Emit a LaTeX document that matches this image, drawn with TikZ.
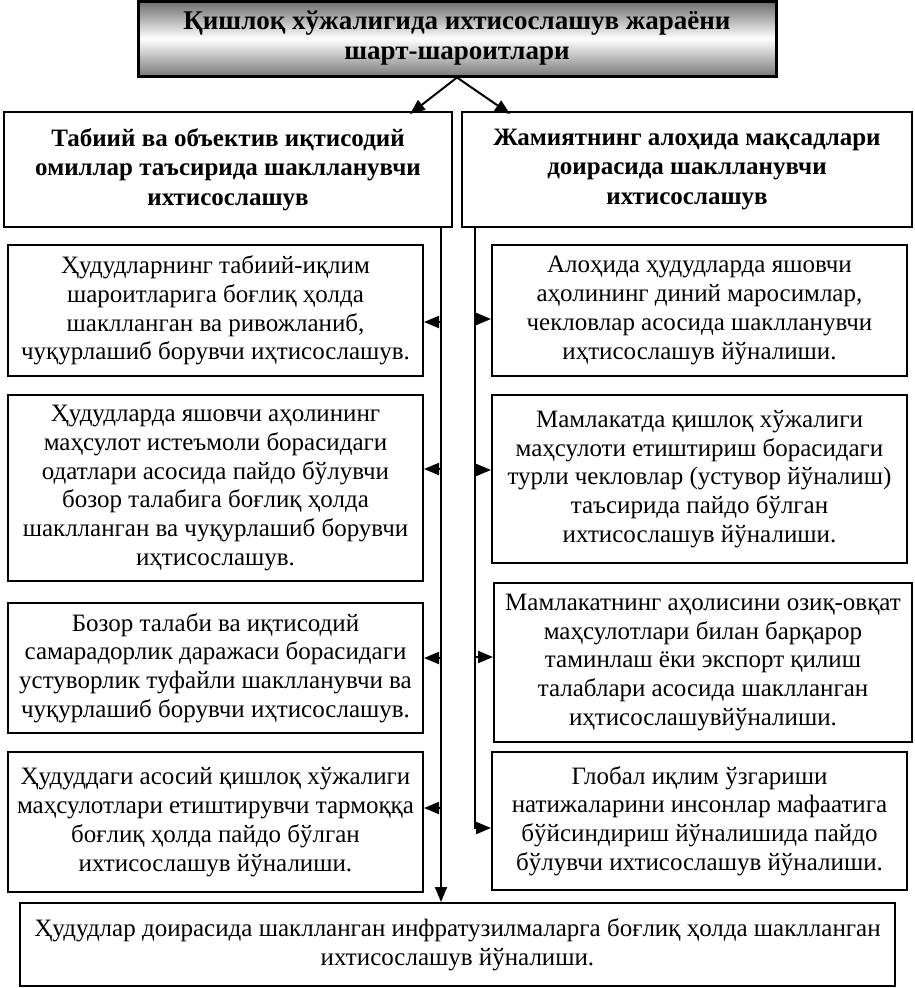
\documentclass[tikz,border=0pt]{standalone}
\usepackage{fontspec}
\setmainfont{Liberation Serif}
\usetikzlibrary{arrows.meta}
\tikzset{
  box/.style={draw=black, line width=2pt, fill=white, align=center, inner sep=0pt,
    font=\fontsize{25}{28.8}\selectfont},
  headbox/.style={box, font=\fontsize{25}{29.5}\selectfont\bfseries},
  conn/.style={line width=2pt, -{Triangle[length=15pt,width=12pt]}},
  plain/.style={line width=2pt}
}
\begin{document}
\begin{tikzpicture}[x=1pt,y=-1pt]
\useasboundingbox (0,0) rectangle (914,988);
% title
\shade[top color=black!58, bottom color=black!52, middle color=white] (138,1) rectangle (776,76);
\node[draw=black, line width=3pt, minimum width=638pt, minimum height=75pt, inner sep=0pt, align=center,
  font=\fontsize{27}{30}\selectfont\bfseries] (title) at (457,38.5)
  {Қишлоқ хўжалигида ихтисослашув жараёни\\шарт-шароитлари};
% headers
\node[headbox, minimum width=448pt, minimum height=115pt] (lh) at (228,169.5)
  {Табиий ва объектив иқтисодий\\омиллар таъсирида шаклланувчи\\ихтисослашув};
\node[headbox, minimum width=450pt, minimum height=115pt] (rh) at (687,169.5)
  {Жамиятнинг алоҳида мақсадлари\\доирасида шаклланувчи\\ихтисослашув};
% left boxes
\node[box, minimum width=415pt, minimum height=131pt] (l1) at (215.5,310.5)
  {Ҳудудларнинг табиий-иқлим\\шароитларига боғлиқ ҳолда\\шаклланган ва ривожланиб,\\чуқурлашиб борувчи иҳтисослашув.};
\node[box, minimum width=415pt, minimum height=186pt] (l2) at (215.5,488)
  {Ҳудудларда яшовчи аҳолининг\\маҳсулот истеъмоли борасидаги\\одатлари асосида пайдо бўлувчи\\бозор талабига боғлиқ ҳолда\\шаклланган ва чуқурлашиб борувчи\\иҳтисослашув.};
\node[box, minimum width=415pt, minimum height=130pt] (l3) at (215.5,668)
  {Бозор талаби ва иқтисодий\\самарадорлик даражаси борасидаги\\устуворлик туфайли шаклланувчи ва\\чуқурлашиб борувчи иҳтисослашув.};
\node[box, minimum width=415pt, minimum height=140pt] (l4) at (215.5,822)
  {Ҳудуддаги асосий қишлоқ хўжалиги\\маҳсулотлари етиштирувчи тармоққа\\боғлиқ ҳолда пайдо бўлган\\ихтисослашув йўналиши.};
% right boxes
\node[box, minimum width=415pt, minimum height=131pt] (r1) at (699.5,310.5)
  {Алоҳида ҳудудларда яшовчи\\аҳолининг диний маросимлар,\\чекловлар асосида шаклланувчи\\иҳтисослашув йўналиши.};
\node[box, minimum width=415pt, minimum height=168pt] (r2) at (699.5,479)
  {Мамлакатда қишлоқ хўжалиги\\маҳсулоти етиштириш борасидаги\\турли чекловлар (устувор йўналиш)\\таъсирида пайдо бўлган\\ихтисослашув йўналиши.};
\node[box, minimum width=418pt, minimum height=159pt] (r3) at (703,662.5)
  {Мамлакатнинг аҳолисини озиқ-овқат\\маҳсулотлари билан барқарор\\таминлаш ёки экспорт қилиш\\талаблари асосида шаклланган\\иҳтисослашувйўналиши.};
\node[box, minimum width=415pt, minimum height=138pt] (r4) at (699.5,821)
  {Глобал иқлим ўзгариши\\натижаларини инсонлар мафаатига\\бўйсиндириш йўналишида пайдо\\бўлувчи ихтисослашув йўналиши.};
% bottom
\node[box, minimum width=875pt, minimum height=83pt] (bot) at (457.5,944.5)
  {Ҳудудлар доирасида шаклланган инфратузилмаларга боғлиқ ҳолда шаклланган\\ихтисослашув йўналиши.};
% connectors
\coordinate (apex) at (title.south);
\draw[conn] (apex) -- (410,114);
\draw[conn] (apex) -- (510,114);
\coordinate (ls) at (441,227);
\coordinate (rs) at (475,227);
\draw[conn] (ls) -- (ls |- bot.north);
\draw[plain] (rs) -- (475,829);
\draw[conn] (475,828) -- (475,828 -| r4.west);
\foreach \n/\yy in {l1/322, l2/469, l3/658, l4/808}{
  \draw[conn] (441,\yy) -- (\n.east |- 0,\yy);
}
\foreach \n/\yy in {r1/319, r2/470, r3/657}{
  \draw[conn] (475,\yy) -- (\n.west |- 0,\yy);
}
\end{tikzpicture}
\end{document}
